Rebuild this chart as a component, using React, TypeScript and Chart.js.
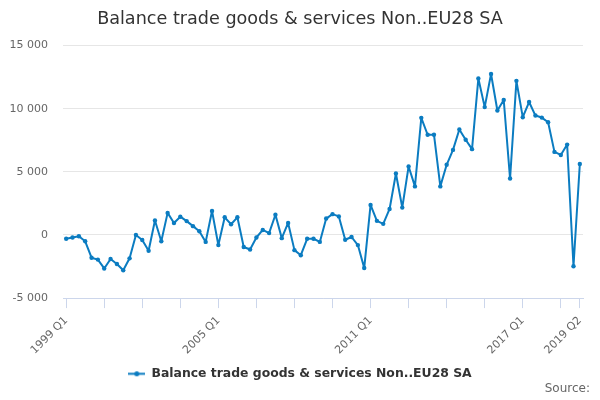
import React, { useEffect, useRef } from "react";
import { Chart, registerables } from "chart.js";

Chart.register(...registerables);

// Quarterly balance, 1999 Q1 .. 2019 Q2
const firstYear = 1999;
const quarterCount = 82;
const categories: string[] = Array.from({ length: quarterCount }, (_, i) => `${firstYear + Math.floor(i / 4)} Q${(i % 4) + 1}`);

const values1999to2003 = [-300, -200, -100, -500, -1800, -1950, -2650, -1900, -2300, -2800, -1850, 0, -400, -1250, 1150, -500, 1750, 950, 1450, 1100];
const values2004to2008 = [700, 300, -550, 1900, -800, 1400, 850, 1400, -950, -1150, -200, 400, 150, 1600, -250, 950, -1200, -1600, -300, -300];
const values2009to2013 = [-550, 1300, 1650, 1470, -380, -160, -800, -2620, 2380, 1120, 880, 2060, 4870, 2170, 5430, 3850, 9280, 7940, 7940, 3850];
const values2014to2019 = [5560, 6740, 8360, 7540, 6800, 12400, 10130, 12750, 9860, 10690, 4470, 12210, 9330, 10530, 9460, 9300, 8930, 6580, 6340, 7160, -2480, 5620];
const seriesValues = [...values1999to2003, ...values2004to2008, ...values2009to2013, ...values2014to2019];

const labelledIndices = [0, 24, 48, 72, 81];
const yTicks = [-5000, 0, 5000, 10000, 15000];

const seriesName = "Balance trade goods & services Non..EU28 SA";
const titleText = "Balance trade goods & services Non..EU28 SA";
const sourceText = "Source:";

const lineColor = "#0b7cc1";

function fmt(v: number): string {
  const s = Math.abs(v).toString().replace(/\B(?=(\d{3})+(?!\d))/g, " ");
  return (v < 0 ? "-" : "") + s;
}

export default function App() {
  const ref = useRef<HTMLCanvasElement | null>(null);

  useEffect(() => {
    document.body.style.margin = "0";
    if (!ref.current) return;
    Chart.defaults.font.family = '"DejaVu Sans", sans-serif';

    const marker = document.createElement("canvas");
    marker.width = 17;
    marker.height = 7;
    const mctx = marker.getContext("2d")!;
    mctx.strokeStyle = lineColor;
    mctx.lineWidth = 2;
    mctx.beginPath();
    mctx.moveTo(0, 3.5);
    mctx.lineTo(17, 3.5);
    mctx.stroke();
    mctx.fillStyle = lineColor;
    mctx.beginPath();
    mctx.arc(8.5, 3.5, 2.5, 0, Math.PI * 2);
    mctx.fill();

    const sourcePlugin = {
      id: "sourceText",
      afterDraw(chart: any) {
        const ctx = chart.ctx;
        ctx.save();
        ctx.font = '12px "DejaVu Sans", sans-serif';
        ctx.fillStyle = "#666666";
        ctx.textAlign = "right";
        ctx.textBaseline = "middle";
        ctx.fillText(sourceText, 590, 389);
        ctx.restore();
      },
    };

    const chart = new Chart(ref.current, {
      type: "line",
      data: {
        labels: categories,
        datasets: [
          {
            label: seriesName,
            data: seriesValues,
            borderColor: lineColor,
            backgroundColor: lineColor,
            borderWidth: 2,
            borderJoinStyle: "round",
            borderCapStyle: "round",
            pointRadius: 2.2,
            pointBorderWidth: 0,
            pointBackgroundColor: lineColor,
            tension: 0,
          },
        ],
      },
      options: {
        responsive: false,
        animation: false,
        devicePixelRatio: 1,
        layout: { padding: { left: 0, right: 0, top: 0, bottom: 10 } },
        plugins: {
          title: {
            display: true,
            text: titleText,
            color: "#333333",
            font: { size: 17.6, weight: "normal" },
            padding: { top: 9, bottom: 15.5 },
          },
          legend: {
            display: true,
            position: "bottom",
            labels: {
              usePointStyle: true,
              pointStyle: marker as any,
              pointStyleWidth: 17,
              color: "#333333",
              font: { size: 12.4, weight: "bold" },
              padding: 10,
            },
          },
          tooltip: { enabled: false },
        },
        scales: {
          x: {
            type: "category",
            offset: true,
            grid: {
              display: true,
              drawOnChartArea: false,
              drawTicks: true,
              tickLength: 10,
              color: "#ccd6eb",
              offset: false,
            },
            border: { display: true, color: "#ccd6eb", width: 1 },
            ticks: {
              autoSkip: false,
              maxRotation: 45,
              minRotation: 45,
              color: "#666666",
              font: { size: 11 },
              padding: 6,
              callback: (_v: any, index: number) => {
                if (labelledIndices.includes(index)) return categories[index];
                if (index % 6 === 0) return "";
                return null as any;
              },
            },
            afterFit: (s: any) => {
              s.height = 59.5;
            },
          },
          y: {
            type: "linear",
            min: yTicks[0],
            max: yTicks[yTicks.length - 1],
            afterBuildTicks: (s: any) => {
              s.ticks = yTicks.map((v) => ({ value: v }));
            },
            grid: { color: "#e6e6e6", drawTicks: false, lineWidth: 1 },
            border: { display: false },
            ticks: {
              color: "#666666",
              font: { size: 11 },
              padding: 15,
              callback: (v: any) => fmt(Number(v)),
            },
            afterFit: (s: any) => {
              s.width = 63;
            },
          },
          spacer: {
            type: "linear",
            position: "right",
            display: true,
            grid: { display: false, drawTicks: false },
            border: { display: false },
            ticks: { display: false },
            afterFit: (s: any) => {
              s.width = 17;
            },
          },
        },
      },
      plugins: [sourcePlugin],
    });

    return () => chart.destroy();
  }, []);

  return (
    <div style={{ width: 600, height: 400, position: "relative" }}>
      <canvas ref={ref} width={600} height={400} style={{ display: "block" }} />
    </div>
  );
}
